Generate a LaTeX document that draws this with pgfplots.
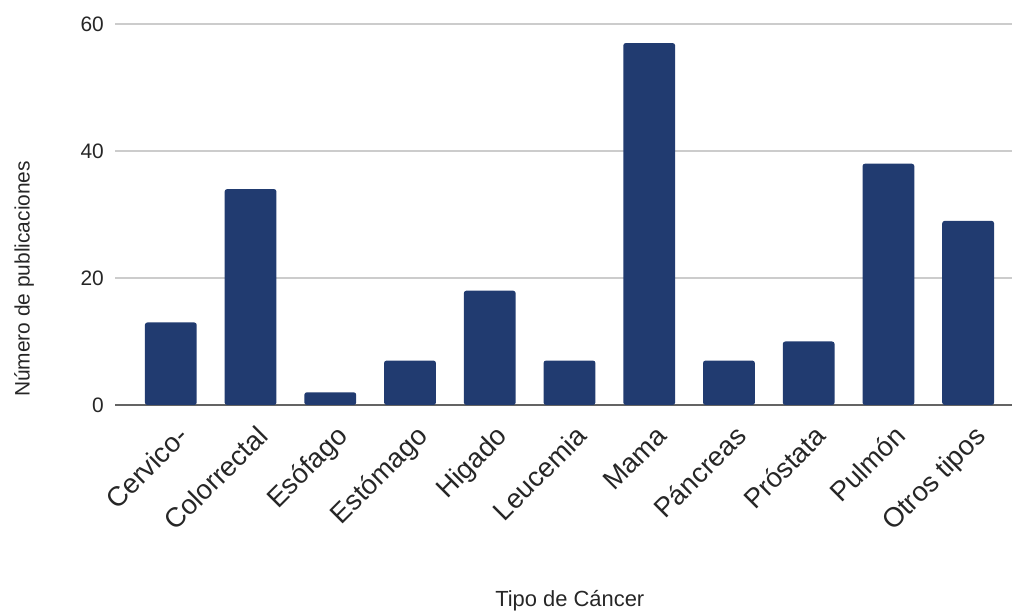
\documentclass[border=0pt]{standalone}
\usepackage{pgfplots}
\pgfplotsset{compat=1.18}
\usepackage{fontspec}
\setmainfont{Liberation Sans}
\definecolor{barblue}{RGB}{33,59,112}
\definecolor{gridgray}{RGB}{204,204,204}
\definecolor{axisgray}{RGB}{100,100,100}
\begin{document}
\begin{tikzpicture}
\useasboundingbox (0,0) rectangle (1012bp,612bp);
\begin{axis}[
  at={(115bp,207bp)}, anchor=south west,
  scale only axis, width=897bp, height=381bp,
  xmin=-0.70, xmax=10.55, ymin=0, ymax=60,
  xtick={0,...,10},
  xticklabels={Cervico-,Colorrectal,Esófago,Estómago,Higado,Leucemia,Mama,Páncreas,Próstata,Pulmón,Otros tipos},
  ytick={0,20,40,60},
  /pgf/number format/assume math mode=true,
  ymajorgrids, major grid style={draw=gridgray, line width=1.3bp},
  major tick length=0pt,
  axis x line*=bottom, axis y line*=left,
  x axis line style={draw=axisgray, line width=1.6bp, -},
  y axis line style={draw=none},
  xticklabel style={font=\fontsize{27.5}{31}\selectfont, color=black!85, inner sep=0pt, xshift=19bp, yshift=-33bp, rotate=45, anchor=base east},
  yticklabel style={font=\fontsize{21}{25}\selectfont, color=black!85, inner sep=0pt, anchor=east, xshift=-11bp},
  xlabel={Tipo de Cáncer},
  ylabel={Número de publicaciones},
  every axis x label/.style={at={(axis description cs:0.507,-0.530)}, anchor=base, font=\fontsize{22}{26}\selectfont, color=black!85},
  every axis y label/.style={at={(axis description cs:-0.1014,0.331)}, rotate=90, anchor=center, font=\fontsize{21}{25}\selectfont, color=black!85},
  ybar, bar width=0.65,
]
\addplot[fill=barblue, draw=none, rounded corners=2.5bp] coordinates {
  (0,13) (1,34) (2,2) (3,7) (4,18) (5,7) (6,57) (7,7) (8,10) (9,38) (10,29)
};
\end{axis}
\end{tikzpicture}
\end{document}
